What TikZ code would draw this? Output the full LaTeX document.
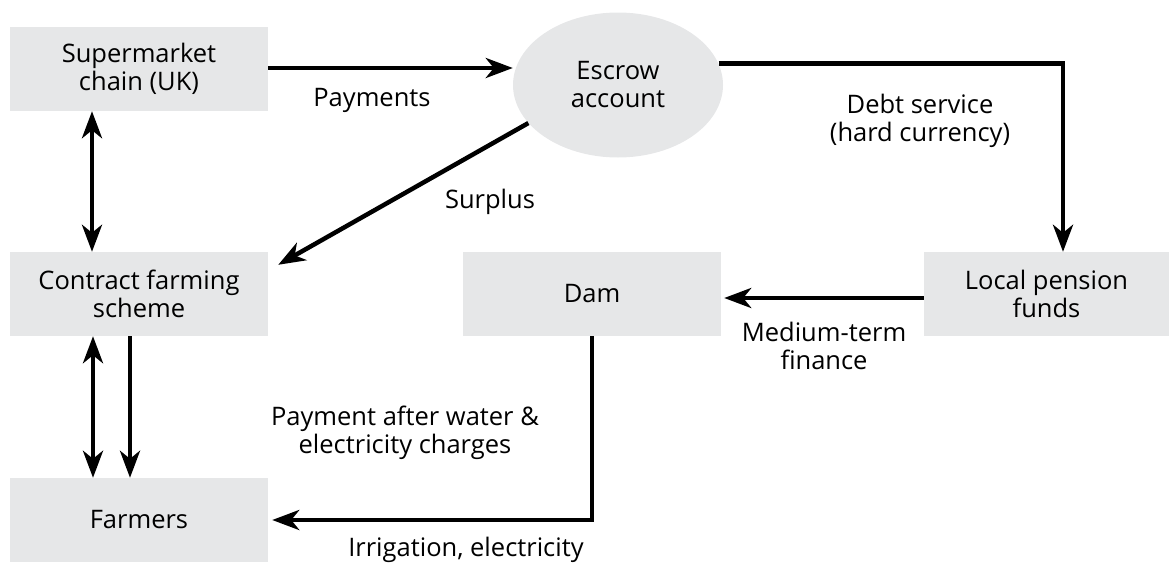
\documentclass[tikz,border=0pt]{standalone}
\usepackage{fontspec}
\setmainfont{Open Sans}
\usepackage{tikz}
\usetikzlibrary{arrows.meta,calc,positioning,shapes.geometric}
\definecolor{boxgray}{HTML}{E6E7E8}
\tikzset{
  box/.style={rectangle, fill=boxgray, minimum width=258pt, minimum height=84pt, inner sep=0pt, align=center, font=\fontsize{25.5}{28}\selectfont},
  pot/.style={ellipse, fill=boxgray, minimum width=210pt, minimum height=145pt, inner sep=0pt, align=center, font=\fontsize{25.5}{28}\selectfont},
  lbl/.style={inner sep=0pt, align=center, font=\fontsize{25.5}{28}\selectfont},
  flow/.style={line width=4.5pt, -{Stealth[length=27pt,width=20pt,inset=8pt]}},
  twoway/.style={line width=4.5pt, {Stealth[length=27pt,width=20pt,inset=8pt]}-{Stealth[length=27pt,width=20pt,inset=8pt]}}
}

\begin{document}
\begin{tikzpicture}[x=1pt,y=-1pt]
\useasboundingbox (0,0) rectangle (1169,562);
\node[box] (super) at (139,69) {Supermarket\\chain (UK)};
\node[pot] (escrow) at (618,85) {Escrow\\account};
\node[box] (contract) at (139,294) {Contract farming\\scheme};
\node[box] (dam) at (592,294) {Dam};
\node[box, minimum width=245pt] (pension) at (1046.5,294) {Local pension\\funds};
\node[box] (farmers) at (139,520) {Farmers};

\node[lbl] (pay) at (372,100) {Payments};
\node[lbl] (debt) at (920,121) {Debt service\\(hard currency)};
\node[lbl] (surplus) at (490,202) {Surplus};
\node[lbl] (medium) at (824,346) {Medium-term\\finance};
\node[lbl] (after) at (405,433) {Payment after water \&\\electricity charges};
\node[lbl] (irrig) at (466,550) {Irrigation, electricity};

\draw[flow] ([yshift=1pt]super.east) -- ([yshift=1pt]super.east -| escrow.west);
\draw[flow] (escrow.12) -| ([xshift=16.5pt]pension.north);
\draw[flow] ([yshift=-4pt]pension.west) -- ([yshift=-4pt,xshift=3pt]dam.east);
\draw[flow] (escrow.203) -- ([xshift=10pt,yshift=-13pt]contract.north east);
\draw[twoway] ([xshift=-47pt]super.south) -- ([xshift=-47pt]contract.north);
\draw[twoway] ([xshift=-46pt]contract.south) -- ([xshift=-46pt]farmers.north);
\draw[flow] ([xshift=-9pt]contract.south) -- ([xshift=-9pt]farmers.north);
\draw[flow] (dam.south) |- ([xshift=4pt]farmers.east);
\end{tikzpicture}
\end{document}
